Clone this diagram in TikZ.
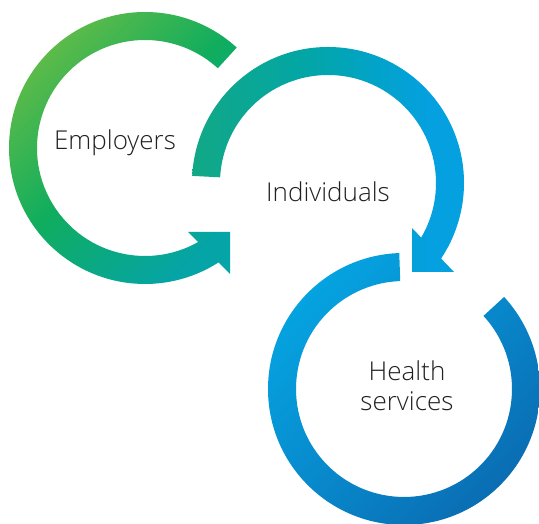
\documentclass[tikz,border=0pt]{standalone}
\usepackage{fontspec}
\setmainfont{Open Sans}[UprightFont=* Light]
\usetikzlibrary{calc}
\definecolor{txt}{HTML}{231F20}
\definecolor{limeA}{HTML}{6ABD45}
\definecolor{greenA}{HTML}{10AD5E}
\definecolor{tealA}{HTML}{05A4A6}
\definecolor{greenB}{HTML}{12A886}
\definecolor{tealB}{HTML}{02A6A6}
\definecolor{cyanB}{HTML}{02A3C8}
\definecolor{blueB}{HTML}{04A0E0}
\definecolor{blueC}{HTML}{05A3E0}
\definecolor{midC}{HTML}{0889CC}
\definecolor{navyC}{HTML}{0A6DB3}
% left-to-right colour run of the Individuals ring
\pgfdeclarehorizontalshading{ringtwo}{100bp}{
  color(0bp)=(greenB); color(25bp)=(greenB); color(46bp)=(tealB);
  color(58bp)=(cyanB); color(68bp)=(blueB); color(100bp)=(blueB)}
\begin{document}
\begin{tikzpicture}[x=1pt,y=1pt,
  caption/.style={text=txt, font=\fontsize{26}{30}\selectfont, align=center, inner sep=0pt},
]
\useasboundingbox (0,0) rectangle (539,524);
\fill[white] (0,0) rectangle (539,524);

% ring centres
\coordinate (c1) at (145,376);
\coordinate (c2) at (328,341);
\coordinate (c3) at (404,135);

% arrowhead tips
\coordinate (t1) at (230,292);
\coordinate (t2) at (412,252);

% Employers ring with arrowhead
\shade[top color=limeA, bottom color=tealA, middle color=greenA, shading angle=45]
  ($(c1)+(47.6:136)$) arc[start angle=47.6, end angle=305, radius=136]
  -- ($(c1)+(305:108)$) arc[start angle=305, end angle=47.6, radius=108] -- cycle
  (t1) -- ++(-42,0) -- ++(42,-42) -- cycle;

% Individuals ring with arrowhead
\shade[shading=ringtwo]
  ($(c2)+(177:136)$) arc[start angle=177, end angle=-36, radius=136]
  -- ($(c2)+(-36:108)$) arc[start angle=-36, end angle=177, radius=108] -- cycle
  (t2) -- ++(0,44) -- ++(42,-44) -- cycle;

% Health services ring
\shade[top color=blueC, bottom color=navyC, middle color=midC, shading angle=45]
  ($(c3)+(92:136)$) arc[start angle=92, end angle=402.6, radius=136]
  -- ($(c3)+(402.6:108)$) arc[start angle=402.6, end angle=92, radius=108] -- cycle;

\node[caption] (employers) at (115,381) {Employers};
\node[caption] (individuals) at (328,332) {Individuals};
\node[caption] (health) at (407,138) {Health\\services};
\end{tikzpicture}
\end{document}
